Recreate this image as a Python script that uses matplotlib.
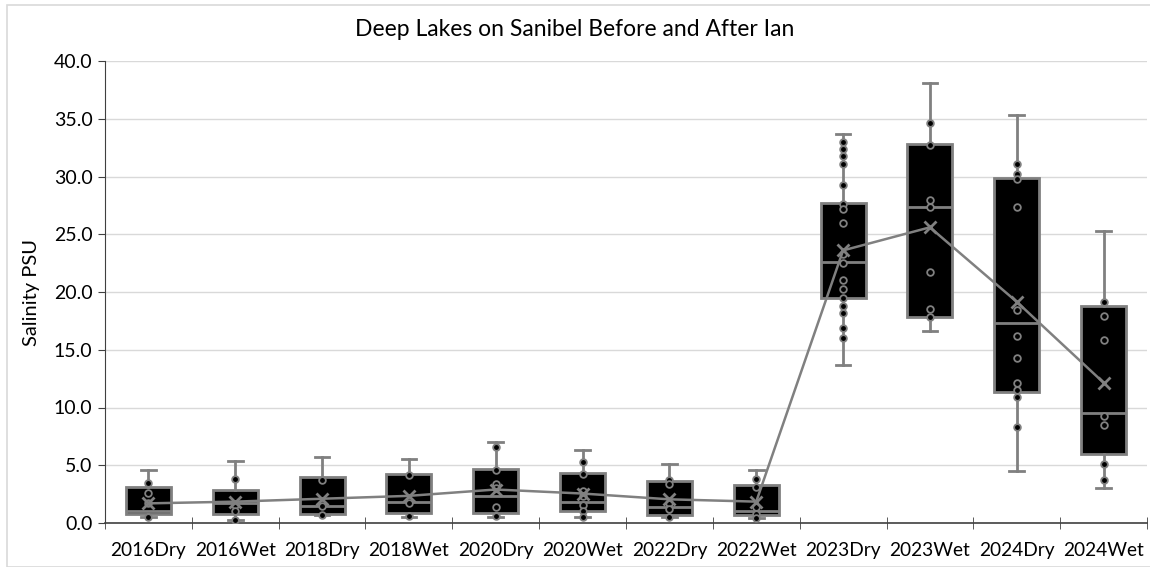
import matplotlib
matplotlib.use("Agg")
import matplotlib.pyplot as plt
from matplotlib.patches import Rectangle

categories = ["2016Dry", "2016Wet", "2018Dry", "2018Wet", "2020Dry", "2020Wet",
              "2022Dry", "2022Wet", "2023Dry", "2023Wet", "2024Dry", "2024Wet"]

whislo = [0.5, 0.3, 0.7, 0.55, 0.55, 0.5, 0.5, 0.4, 13.65, 16.6, 4.5, 3.0]
q1     = [0.8, 0.75, 0.8, 0.9, 0.9, 1.0, 0.7, 0.7, 19.45, 17.8, 11.35, 5.95]
median = [1.0, 1.75, 1.5, 1.85, 2.35, 1.8, 1.4, 1.05, 22.6, 27.35, 17.3, 9.5]
q3     = [3.1, 2.9, 4.0, 4.25, 4.7, 4.3, 3.6, 3.25, 27.7, 32.8, 29.9, 18.8]
whishi = [4.55, 5.35, 5.7, 5.5, 7.05, 6.3, 5.15, 4.55, 33.7, 38.1, 35.3, 25.3]
mean   = [1.7, 1.85, 2.1, 2.35, 2.9, 2.55, 2.05, 1.85, 23.6, 25.6, 19.15, 12.15]

points = [
    [3.45, 2.6, 1.7, 0.55],
    [3.85, 1.6, 1.05, 0.3],
    [3.7, 1.5, 0.7],
    [4.15, 1.7, 0.6],
    [6.55, 4.6, 3.35, 3.05, 1.4, 0.6],
    [5.25, 4.25, 2.8, 2.35, 1.6, 1.05, 0.5],
    [3.7, 3.35, 1.7, 1.2, 0.5],
    [3.8, 3.15, 1.4, 0.75, 0.4],
    [33.0, 32.4, 31.8, 31.05, 29.3, 27.65, 27.2, 26.0, 23.3, 22.55, 21.0,
     20.25, 19.45, 18.8, 18.15, 16.85, 16.05],
    [34.6, 32.75, 28.0, 27.35, 21.7, 18.5, 17.8],
    [31.1, 30.25, 29.8, 27.35, 18.4, 16.2, 14.25, 12.15, 11.5, 10.9, 8.3],
    [19.1, 17.9, 15.85, 9.3, 8.5, 5.1, 3.7],
]

yticks = [0, 5, 10, 15, 20, 25, 30, 35, 40]

GRAY = "#808080"
plt.rcParams["font.family"] = ["Lato", "DejaVu Sans"]

fig = plt.figure(figsize=(11.5, 5.67), dpi=100)
ax = fig.add_axes([105 / 1150, 44 / 567, 1042 / 1150, 462 / 567])

# light border around the figure
fig.patches.append(Rectangle((7 / 1150, 0), 1.0, 562.5 / 567, transform=fig.transFigure,
                             fill=False, edgecolor="#d9d9d9", linewidth=1.2))

pos = list(range(1, len(categories) + 1))
stats = []
for i in range(len(categories)):
    stats.append(dict(med=median[i], q1=q1[i], q3=q3[i], whislo=whislo[i],
                      whishi=whishi[i], mean=mean[i], fliers=[], label=categories[i]))

ax.bxp(stats, positions=pos, widths=0.52, patch_artist=True, showmeans=False,
       boxprops=dict(facecolor="black", edgecolor=GRAY, linewidth=2.0),
       medianprops=dict(color=GRAY, linewidth=2.0),
       whiskerprops=dict(color=GRAY, linewidth=2.0),
       capprops=dict(color=GRAY, linewidth=2.0),
       capwidths=0.17, zorder=3)

for p, vals in zip(pos, points):
    ax.plot([p] * len(vals), vals, linestyle="none", marker="o", markersize=4.8,
            markerfacecolor="black", markeredgecolor=GRAY, markeredgewidth=1.3, zorder=4)

ax.plot(pos, mean, color=GRAY, linewidth=1.8, zorder=5)
ax.plot(pos, mean, linestyle="none", marker="x", markersize=9, markeredgewidth=2.0,
        color=GRAY, zorder=6)

ax.set_xlim(0.5, len(categories) + 0.5)
ax.set_ylim(0, 40)
ax.set_yticks(yticks)
ax.set_yticklabels([f"{v:.1f}" for v in yticks], fontsize=14)
ax.set_xticks(pos)
ax.set_xticklabels(categories, fontsize=13.8)
ax.set_xticks([p + 0.5 for p in range(0, len(categories) + 1)], minor=True)
ax.tick_params(axis="x", which="major", length=0, pad=14)
ax.tick_params(axis="x", which="minor", length=8, direction="inout", color="#404040")
ax.tick_params(axis="y", length=5, direction="out", color="#404040", pad=4)

ax.grid(axis="y", color="#d9d9d9", linewidth=1.0, zorder=0)
ax.set_axisbelow(True)
for s in ["top", "right"]:
    ax.spines[s].set_visible(False)
ax.spines["left"].set_color("#404040")
ax.spines["bottom"].set_color("#404040")
ax.spines["bottom"].set_linewidth(1.2)

ax.set_ylabel("Salinity PSU", fontsize=14.5, labelpad=10)
fig.text(0.5, 1 - 29 / 567, "Deep Lakes on Sanibel Before and After Ian", ha="center",
         va="center", fontsize=16.5)

fig.savefig("out.png", dpi=100)
